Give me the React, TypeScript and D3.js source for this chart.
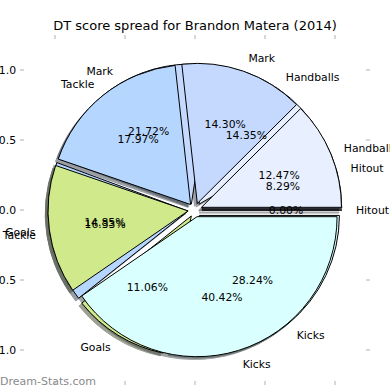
import React from 'react';
import * as d3 from 'd3';

// DT score spread, share of points by stat (%)
const categories = ['Hitout', 'Handballs', 'Mark', 'Tackle', 'Goals', 'Kicks'];
const spread2014 = [0.0, 12.47, 14.3, 17.97, 14.85, 40.42];
const spreadCareer = [8.29, 14.35, 21.72, 16.33, 11.06, 28.24];
const sliceColors = ['#dfe6ff', '#e8efff', '#c5d9ff', '#b5d6ff', '#cfe98b', '#d9ffff'];
const axisTicks = [-1, -0.5, 0, 0.5, 1];
const tickLabels = ['\u22121.0', '\u22120.5', '0.0', '0.5', '1.0'];

const W = 390;
const H = 390;
const FONT = 'DejaVu Sans, sans-serif';
const explode = 0.05;

const x = d3.scaleLinear().domain([-1.25, 1.25]).range([20, 370]);
const y = d3.scaleLinear().domain([-1.25, 1.25]).range([385, 35]);
const R = x(1) - x(0);

// matplotlib style: start at 3 o'clock, go counter-clockwise
const pie = d3.pie<number>().sort(null).startAngle(Math.PI / 2).endAngle(Math.PI / 2 - 2 * Math.PI);
const arc = d3.arc<d3.PieArcDatum<number>>().innerRadius(0).outerRadius(R);

function layout(values: number[]) {
  const total = d3.sum(values);
  return pie(values).map((d, i) => {
    const mid = (d.startAngle + d.endAngle) / 2;
    const dx = explode * Math.sin(mid);
    const dy = explode * Math.cos(mid);
    const lx = dx + 1.1 * Math.sin(mid);
    return {
      d,
      i,
      cx: x(dx),
      cy: y(dy),
      label: categories[i],
      lx: x(lx),
      ly: y(dy + 1.1 * Math.cos(mid)),
      anchor: lx < 0 ? 'end' : 'start',
      px: x(dx + 0.6 * Math.sin(mid)),
      py: y(dy + 0.6 * Math.cos(mid)),
      pct: ((d.value / total) * 100).toFixed(2) + '%',
    };
  });
}

export default function App() {
  const under = layout(spreadCareer);
  const over = layout(spread2014);
  const all = [...under, ...over];
  const sx = x(-0.02) - x(0);
  const sy = y(-0.02) - y(0);

  return (
    <svg width={W} height={H} style={{ position: 'absolute', left: 0, top: 0, background: '#fff' }} fontFamily={FONT}>
      <text x={W / 2} y={30} textAnchor="middle" fontSize={13} fill="#000">
        DT score spread for Brandon Matera (2014)
      </text>

      {/* ticks */}
      {axisTicks.map((t, i) => (
        <g key={'t' + i} stroke="#b0b0b0" strokeWidth={1}>
          <line x1={20} x2={24} y1={y(t)} y2={y(t)} />
          <line x1={366} x2={370} y1={y(t)} y2={y(t)} />
          <line x1={x(t)} x2={x(t)} y1={35} y2={39} />
          <line x1={x(t)} x2={x(t)} y1={381} y2={385} />
        </g>
      ))}
      {axisTicks.map((t, i) => (
        <text key={'yl' + i} x={16} y={y(t)} dy="0.35em" textAnchor="end" fontSize={10.8} fill="#000">
          {tickLabels[i]}
        </text>
      ))}
      {axisTicks.map((t, i) => (
        <text key={'xl' + i} x={x(t)} y={398} textAnchor="middle" fontSize={10.8} fill="#000">
          {tickLabels[i]}
        </text>
      ))}

      {/* shadows */}
      {all.map((s, k) => {
        const c = d3.rgb(sliceColors[s.i]);
        const dark = d3.rgb(c.r * 0.3, c.g * 0.3, c.b * 0.3).toString();
        return (
          <path
            key={'s' + k}
            d={arc(s.d) || ''}
            transform={`translate(${s.cx + sx},${s.cy + sy})`}
            fill={dark}
            stroke={dark}
            opacity={0.5}
          />
        );
      })}

      {/* wedges */}
      {all.map((s, k) => (
        <path
          key={'w' + k}
          d={arc(s.d) || ''}
          transform={`translate(${s.cx},${s.cy})`}
          fill={sliceColors[s.i]}
          stroke="#000"
          strokeWidth={1}
          strokeLinejoin="miter"
        />
      ))}

      {/* labels */}
      {all.map((s, k) => (
        <g key={'l' + k} fontSize={10.8} fill="#000">
          <text x={s.lx} y={s.ly} dy="0.35em" textAnchor={s.anchor}>
            {s.label}
          </text>
          <text x={s.px} y={s.py} dy="0.35em" textAnchor="middle">
            {s.pct}
          </text>
        </g>
      ))}

      <text x={0} y={385} fontSize={11} fill="#8a8a8a">
        Dream-Stats.com
      </text>
    </svg>
  );
}
